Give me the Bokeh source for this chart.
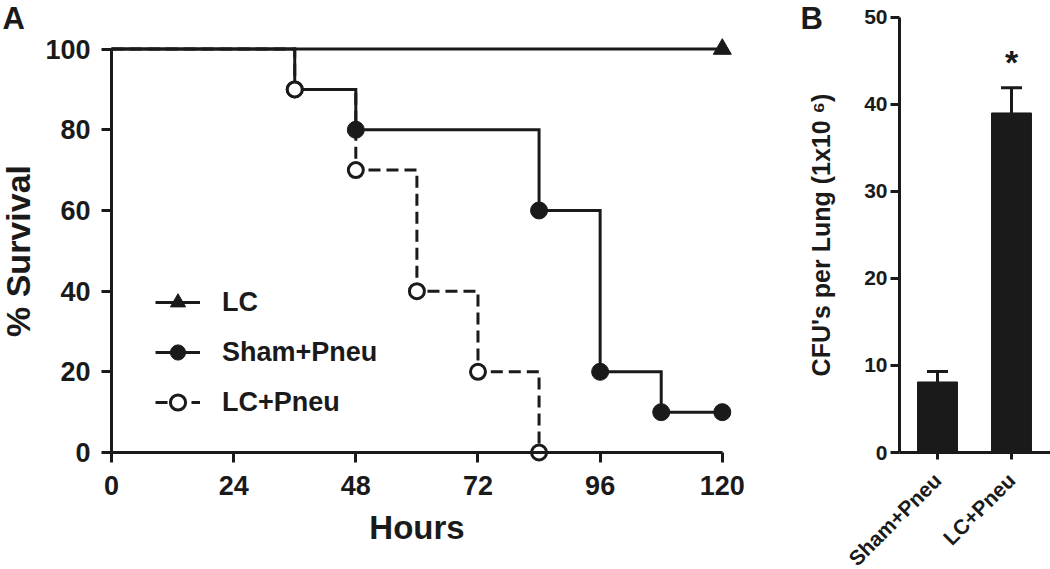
import math
from bokeh.plotting import figure
from bokeh.layouts import row
from bokeh.models import (ColumnDataSource, FixedTicker, Legend, LegendItem, Label,
                          Whisker, TeeHead, Range1d)
from bokeh.core.properties import value
from bokeh.embed import file_html
from bokeh.resources import INLINE

# ---------------- Panel A data (Kaplan-Meier survival) ----------------
hours_lc = [0, 120]
surv_lc = [100, 100]
hours_sham = [0, 36, 48, 84, 96, 108, 120]
surv_sham = [100, 90, 80, 60, 20, 10, 10]
hours_lcp = [0, 36, 48, 60, 72, 84]
surv_lcp = [100, 90, 70, 40, 20, 0]
x_ticks_a = [0, 24, 48, 72, 96, 120]
y_ticks_a = [0, 20, 40, 60, 80, 100]

# ---------------- Panel B data (CFU per lung) ----------------
groups = ["Sham+Pneu", "LC+Pneu"]
cfu = [8.1, 39.0]
cfu_sem = [1.2, 2.9]
signif = ["", "*"]
y_ticks_b = [0, 10, 20, 30, 40, 50]

INK = "#1a1a1a"
FONT = "Liberation Sans"
H = 569
WA, WB = 795, 255


def rng(px_lo, px_hi, px_at0, px_per_unit, inverted=False):
    """Range whose ends fall on the given pixels, with value 0 at px_at0."""
    if inverted:
        return Range1d((px_at0 - px_hi) / px_per_unit, (px_at0 - px_lo) / px_per_unit)
    return Range1d((px_lo - px_at0) / px_per_unit, (px_hi - px_at0) / px_per_unit)


def style_axis(ax, tick_size, tick_len):
    ax.axis_line_width = 3
    ax.axis_line_color = INK
    ax.major_tick_line_width = 3
    ax.major_tick_line_color = INK
    ax.major_tick_out = tick_len
    ax.major_tick_in = 0
    ax.minor_tick_line_color = None
    ax.major_label_text_font = FONT
    ax.major_label_text_font_style = "bold"
    ax.major_label_text_font_size = tick_size
    ax.major_label_text_color = INK
    ax.axis_label_text_font = FONT
    ax.axis_label_text_font_style = "bold"
    ax.axis_label_text_color = INK


# ================= Panel A =================
AX0, APX = 111, 5.09     # pixel x of hour 0, px per hour
AY0, APY = 452, 4.034    # pixel y of 0 %, px per %
pa = figure(width=WA, height=H,
            x_range=rng(0, WA, AX0, APX),
            y_range=rng(0, H, AY0, APY, inverted=True),
            output_backend="svg", toolbar_location=None,
            min_border_left=0, min_border_right=0, min_border_top=0, min_border_bottom=0)
pa.outline_line_color = None
pa.grid.visible = False

r_lcp_line = pa.step(hours_lcp, surv_lcp, mode="after", line_color=INK, line_width=3,
                     line_dash="12 6", line_join="miter")
r_sham_line = pa.step(hours_sham, surv_sham, mode="after", line_color=INK, line_width=3,
                      line_join="miter")
r_lc_line = pa.step(hours_lc, surv_lc, mode="after", line_color=INK, line_width=3,
                    line_join="miter")
r_lc_m = pa.scatter(hours_lc[-1:], surv_lc[-1:], marker="triangle", size=18,
                    fill_color=INK, line_color=INK)
r_sham_m = pa.scatter(hours_sham[1:], surv_sham[1:], marker="circle", size=17,
                      fill_color=INK, line_color=INK)
r_lcp_m = pa.scatter(hours_lcp[1:], surv_lcp[1:], marker="circle", size=15,
                     fill_color="white", line_color=INK, line_width=3)

xa = pa.xaxis[0]
style_axis(xa, "27px", 10)
xa.fixed_location = 0
xa.bounds = (x_ticks_a[0], x_ticks_a[-1])
xa.ticker = FixedTicker(ticks=x_ticks_a)
xa.axis_label = "Hours"
xa.axis_label_text_font_size = "33px"
xa.major_label_standoff = 13
xa.axis_label_standoff = 11

ya = pa.yaxis[0]
style_axis(ya, "27px", 10)
ya.fixed_location = 0
ya.bounds = (y_ticks_a[0], y_ticks_a[-1])
ya.ticker = FixedTicker(ticks=y_ticks_a)
ya.axis_label = "% Survival"
ya.axis_label_text_font_size = "34px"
ya.major_label_standoff = 11
ya.axis_label_standoff = 5

legend = Legend(items=[
    LegendItem(label="LC", renderers=[r_lc_line, r_lc_m]),
    LegendItem(label="Sham+Pneu", renderers=[r_sham_line, r_sham_m]),
    LegendItem(label="LC+Pneu", renderers=[r_lcp_line, r_lcp_m]),
], location=(155, H - 421), glyph_width=45, glyph_height=38, label_height=38,
    spacing=12, label_standoff=22, padding=0, margin=0, border_line_color=None,
    background_fill_alpha=0, label_text_font=FONT, label_text_font_style="bold",
    label_text_font_size="27px", label_text_color=INK)
pa.add_layout(legend)

pa.add_layout(Label(x=(2 - AX0) / APX, y=(AY0 - 18) / APY, text="A", text_font=FONT,
                    text_font_style="bold", text_font_size="31px", text_color=INK,
                    text_baseline="alphabetic"))

# ================= Panel B =================
BX0, BPX = 937, 74       # pixel x of first bar centre, px per category
BY0, BPY = 452, 8.706    # pixel y of 0, px per unit
idx = list(range(len(groups)))
upper = [c + s for c, s in zip(cfu, cfu_sem)]
src = ColumnDataSource(dict(x=idx, top=cfu, upper=upper,
                            star_y=[u + 3.0 for u in upper], star=signif))

pb = figure(width=WB, height=H,
            x_range=rng(WA, WA + WB, BX0, BPX),
            y_range=rng(0, H, BY0, BPY, inverted=True),
            output_backend="svg", toolbar_location=None,
            min_border_left=0, min_border_right=0, min_border_top=0, min_border_bottom=0)
pb.outline_line_color = None
pb.grid.visible = False

b_axis_x = (899 - BX0) / BPX
pb.vbar(x="x", top="top", width=0.54, fill_color=INK, line_color=INK, source=src)
pb.add_layout(Whisker(base="x", lower="top", upper="upper", source=src, dimension="height",
                      line_width=3, line_color=INK,
                      upper_head=TeeHead(size=21, line_width=3, line_color=INK),
                      lower_head=None))
pb.text(x="x", y="star_y", text="star", source=src, text_font=value(FONT),
        text_font_style="bold", text_font_size="34px", text_color=INK,
        text_align="center", text_baseline="alphabetic")

xb = pb.xaxis[0]
style_axis(xb, "21px", 7)
xb.fixed_location = 0
xb.bounds = (b_axis_x, pb.x_range.end)
xb.ticker = FixedTicker(ticks=idx)
xb.major_label_overrides = {i: g for i, g in zip(idx, groups)}
xb.major_label_orientation = math.pi / 4
xb.major_label_standoff = 17

yb = pb.yaxis[0]
style_axis(yb, "21px", 9)
yb.fixed_location = b_axis_x
yb.bounds = (y_ticks_b[0], y_ticks_b[-1])
yb.ticker = FixedTicker(ticks=y_ticks_b)
yb.axis_label = "CFU's per Lung (1x10 \u2076)"
yb.axis_label_text_font_size = "25px"
yb.major_label_standoff = 3
yb.axis_label_standoff = 26

pb.add_layout(Label(x=(800 - BX0) / BPX, y=(BY0 - 18) / BPY, text="B", text_font=FONT,
                    text_font_style="bold", text_font_size="31px", text_color=INK,
                    text_baseline="alphabetic"))

layout = row(pa, pb)
open("out.html", "w").write(file_html(layout, INLINE))
